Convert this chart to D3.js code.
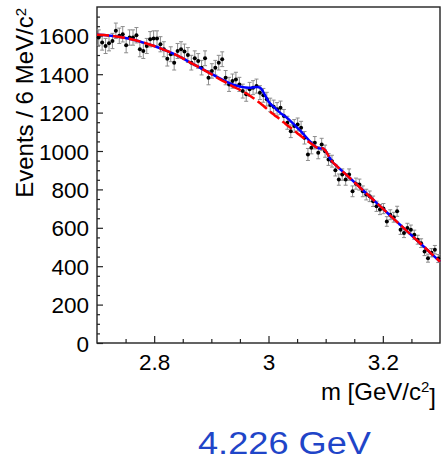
<!DOCTYPE html>
<html>
<head>
<meta charset="utf-8">
<script src="https://cdn.jsdelivr.net/npm/d3@7"></script>
<style>
  html, body { margin: 0; padding: 0; background: #fff; }
  svg { display: block; font-family: "Liberation Sans", Arial, Helvetica, sans-serif; }
</style>
</head>
<body>
<svg id="chart" width="443" height="469"></svg>
<script>
// Histogram: 6 MeV bins starting at 2.700 GeV/c^2
const binStart = 2.700;
const binWidth = 0.006;
const counts = [
  1591, 1565, 1547, 1561, 1573, 1626, 1600, 1608, 1551, 1591,
  1591, 1603, 1530, 1521, 1547, 1582, 1586, 1586, 1556, 1530,
  1481, 1504, 1460, 1521, 1530, 1518, 1500, 1460, 1483, 1469,
  1434, 1483, 1382, 1417, 1434, 1460, 1478, 1382, 1347, 1364,
  1373, 1347, 1312, 1295, 1321, 1330, 1338, 1304, 1290, 1270,
  1240, 1230, 1217, 1225, 1182, 1147, 1103, 1130, 1138, 1121,
  1069,  982, 1017, 1043,  991, 1034,  999,  956,  947,  900,
   851,  877,  851,  877,  790,  830,  825,  790,  773,  764,
   738,  712,  695,  700,  633,  668,  655,  686,  590,  573,
   599,  590,  564,  538,  520,  477,  442,  470,  486,  440
];

// Fit curves sampled in mass (GeV/c^2)
const curveMass = [2.70, 2.72, 2.74, 2.76, 2.78, 2.80, 2.82, 2.84, 2.86, 2.88,
  2.90, 2.92, 2.93, 2.94, 2.95, 2.96, 2.97, 2.98, 2.985, 2.99,
  2.995, 3.00, 3.01, 3.02, 3.03, 3.04, 3.05, 3.06, 3.07, 3.08,
  3.085, 3.09, 3.095, 3.10, 3.105, 3.11, 3.12, 3.14, 3.16, 3.18,
  3.20, 3.22, 3.24, 3.26, 3.28, 3.30];
const bkgCurve = [1605, 1602, 1594, 1582, 1566, 1547, 1524, 1498, 1466, 1434,
  1400, 1365, 1349, 1333, 1318, 1302, 1283, 1262, 1250, 1238,
  1225, 1212, 1188, 1165, 1141, 1118, 1094, 1070, 1048, 1027,
  1017, 1013, 1014, 1000, 975, 950, 920, 866, 810, 755,
  700, 644, 589, 534, 479, 424];
const totalCurve = [1605, 1602, 1594, 1582, 1566, 1547, 1524, 1498, 1466, 1434,
  1402, 1370, 1356, 1344, 1336, 1331, 1330, 1333, 1330, 1312,
  1285, 1258, 1228, 1200, 1178, 1152, 1122, 1092, 1058, 1027,
  1017, 1013, 1014, 1000, 975, 950, 920, 866, 810, 755,
  700, 644, 589, 534, 479, 424];

// Axis ticks
const xMajorTicks = [2.8, 3.0, 3.2];
const xTickLabels = ["2.8", "3", "3.2"];
const yMajorTicks = [0, 200, 400, 600, 800, 1000, 1200, 1400, 1600];
const yTickLabels = ["0", "200", "400", "600", "800", "1000", "1200", "1400", "1600"];
const energyLabel = "4.226 GeV";

const svg = d3.select("#chart");
const plotLeft = 97, plotRight = 440, plotTop = 7, plotBottom = 343;

const x = d3.scaleLinear().domain([2.7, 3.3]).range([plotLeft, plotRight]);
const y = d3.scaleLinear().domain([0, 1750]).range([plotBottom, plotTop]);

const axisColor = "#222";

// Frame
svg.append("rect")
  .attr("x", plotLeft).attr("y", plotTop)
  .attr("width", plotRight - plotLeft).attr("height", plotBottom - plotTop)
  .attr("fill", "none").attr("stroke", axisColor).attr("stroke-width", 1.4);

// Minor ticks
const xMinor = d3.range(2.75, 3.3, 0.05).filter(v => !xMajorTicks.some(t => Math.abs(t - v) < 1e-6));
const yMinor = d3.range(50, 1750, 50).filter(v => v % 200 !== 0);

const xAxisMinor = svg.append("g").attr("transform", `translate(0,${plotBottom})`)
  .call(d3.axisBottom(x).tickValues(xMinor).tickSize(-4).tickFormat(""));
const xAxis = svg.append("g").attr("transform", `translate(0,${plotBottom})`)
  .call(d3.axisBottom(x).tickValues(xMajorTicks).tickSize(-7).tickPadding(10)
    .tickFormat((d, i) => xTickLabels[i]));
const yAxisMinor = svg.append("g").attr("transform", `translate(${plotLeft},0)`)
  .call(d3.axisLeft(y).tickValues(yMinor).tickSize(-3).tickFormat(""));
const yAxis = svg.append("g").attr("transform", `translate(${plotLeft},0)`)
  .call(d3.axisLeft(y).tickValues(yMajorTicks).tickSize(-6).tickPadding(8)
    .tickFormat((d, i) => yTickLabels[i]));

[xAxisMinor, xAxis, yAxisMinor, yAxis].forEach(g => {
  g.select(".domain").remove();
  g.selectAll("line").attr("stroke", axisColor).attr("stroke-width", 1.2);
  g.selectAll("text").attr("fill", "#000").style("font-size", "22.5px")
    .style("font-family", "'Liberation Sans', Arial, sans-serif");
});
xAxis.selectAll("text").attr("dy", null).attr("y", 27);
yAxis.selectAll("text").attr("dy", "0.36em");

// Data with error bars
const points = counts.map((c, i) => ({ m: binStart + binWidth * (i + 0.5), n: c, e: Math.sqrt(c) }));
const errG = svg.append("g").attr("stroke", "#8c8c8c").attr("stroke-width", 1);
points.forEach(p => {
  const px = x(p.m), y0 = y(p.n - p.e), y1 = y(p.n + p.e);
  errG.append("line").attr("x1", px).attr("x2", px).attr("y1", y0).attr("y2", y1);
  errG.append("line").attr("x1", px - 2).attr("x2", px + 2).attr("y1", y0).attr("y2", y0);
  errG.append("line").attr("x1", px - 2).attr("x2", px + 2).attr("y1", y1).attr("y2", y1);
});
svg.append("g").selectAll("circle").data(points).join("circle")
  .attr("cx", d => x(d.m)).attr("cy", d => y(d.n)).attr("r", 2).attr("fill", "#000");

// Fit curves: total (blue, solid) and background (red, dashed) on top
const line = d3.line().x(d => x(d[0])).y(d => y(d[1])).curve(d3.curveMonotoneX);
svg.append("path")
  .attr("d", line(curveMass.map((m, i) => [m, totalCurve[i]])))
  .attr("fill", "none").attr("stroke", "#0000ff").attr("stroke-width", 2.5);
svg.append("path")
  .attr("d", line(curveMass.map((m, i) => [m, bkgCurve[i]])))
  .attr("fill", "none").attr("stroke", "#ff0000").attr("stroke-width", 2.5)
  .attr("stroke-dasharray", "12,4");

// Axis titles
const yt = svg.append("text")
  .attr("transform", "translate(33,8) rotate(-90)")
  .attr("text-anchor", "end").style("font-size", "24px").attr("fill", "#000");
yt.append("tspan").text("Events / 6 MeV/c");
yt.append("tspan").attr("dy", "-0.5em").style("font-size", "15px").text("2");

const xt = svg.append("text")
  .attr("x", 436).attr("y", 400)
  .attr("text-anchor", "end").style("font-size", "24px").attr("fill", "#000");
xt.append("tspan").text("m [GeV/c");
xt.append("tspan").attr("dy", "-0.55em").style("font-size", "15px").text("2");
xt.append("tspan").attr("dy", "0.55em").text("]");

// Energy label
svg.append("text")
  .attr("x", 198).attr("y", 454)
  .attr("textLength", 173).attr("lengthAdjust", "spacingAndGlyphs")
  .style("font-size", "31px").attr("fill", "#1f45c8")
  .text(energyLabel);
</script>
</body>
</html>
